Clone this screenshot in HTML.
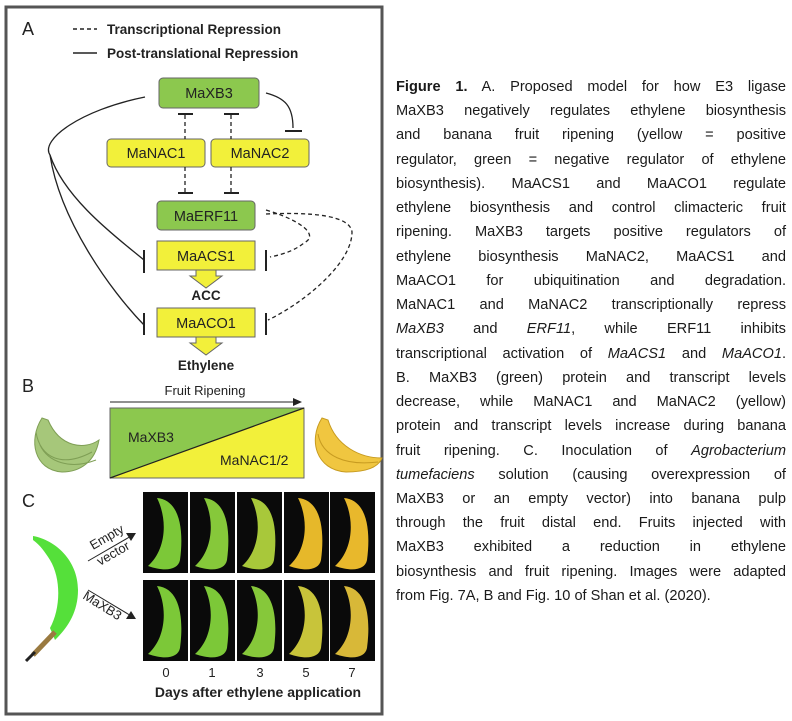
<!DOCTYPE html>
<html><head><meta charset="utf-8"><style>
body{margin:0;width:792px;height:721px;background:#fff;position:relative;overflow:hidden;font-family:"Liberation Sans",sans-serif}
#txt{position:absolute;left:396px;top:75px;width:390px;font-size:14.6px;line-height:24.24px;color:#1a1a1a}
#txt div{text-align:justify;text-align-last:justify;height:24.24px;white-space:normal}
#txt div.l{text-align-last:left}
</style></head><body>
<svg width="792" height="721" style="position:absolute;left:0;top:0" font-family="Liberation Sans, sans-serif">
<rect x="6" y="7" width="376" height="707" fill="none" stroke="#555" stroke-width="3"/>
<g font-size="15" fill="#222"><text x="22" y="35" font-size="18">A</text>
<line x1="73" y1="29" x2="97" y2="29" stroke="#222" stroke-width="1.5" stroke-dasharray="4,3"/>
<text x="107" y="34" font-weight="bold" font-size="13.5">Transcriptional Repression</text>
<line x1="73" y1="53" x2="97" y2="53" stroke="#222" stroke-width="1.5"/>
<text x="107" y="58" font-weight="bold" font-size="13.5">Post-translational Repression</text></g>
<g stroke="#666" stroke-width="1" font-size="14.5" text-anchor="middle">
<rect x="159" y="78" width="100" height="30" rx="4" fill="#8cc84e"/>
<rect x="107" y="139" width="98" height="28" rx="4" fill="#f2f03a"/>
<rect x="211" y="139" width="98" height="28" rx="4" fill="#f2f03a"/>
<rect x="157" y="201" width="98" height="29" rx="4" fill="#8cc84e"/>
<rect x="157" y="241" width="98" height="29" fill="#f2f03a"/>
<rect x="157" y="308" width="98" height="29" fill="#f2f03a"/>
<polygon points="196,270 216,270 216,276 222,276 206,288 190,276 196,276" fill="#f2f03a"/>
<polygon points="196,337 216,337 216,343 222,343 206,355 190,343 196,343" fill="#f2f03a"/>
</g>
<g font-size="14.5" text-anchor="middle" fill="#222">
<text x="209" y="98">MaXB3</text><text x="156" y="158">MaNAC1</text><text x="260" y="158">MaNAC2</text>
<text x="206" y="221">MaERF11</text><text x="206" y="261">MaACS1</text><text x="206" y="328">MaACO1</text>
<text x="206" y="300" font-weight="bold" font-size="13.5">ACC</text><text x="206" y="370" font-weight="bold" font-size="13.5">Ethylene</text></g>
<g stroke="#222" stroke-width="1.3" fill="none">
<path d="M185 115V139M231 115V139M185 167V193M231 167V193" stroke-dasharray="4,3"/>
<path d="M178 114H193M224 114H239M178 193H193M224 193H239" stroke-width="2"/>
<path d="M266 93C285 98 293 106 293 128"/><path d="M285 131H302" stroke-width="2"/>
<path d="M145 97C80 110 40 140 50 155C65 200 120 240 144 260"/>
<path d="M50 155C60 220 110 290 144 325"/>
<path d="M144 250V273M144 313V335M266 250V271M266 313V335" stroke-width="2"/>
<path d="M266 210C300 220 320 235 304 243C295 250 285 254 270 257" stroke-dasharray="4,3"/>
<path d="M266 214C310 212 350 215 352 232C352 265 300 305 268 320" stroke-dasharray="4,3"/>
</g>
<text x="22" y="392" font-size="18" fill="#222">B</text>
<text x="205" y="395" font-size="13" text-anchor="middle" fill="#222">Fruit Ripening</text>
<line x1="110" y1="402" x2="296" y2="402" stroke="#222" stroke-width="1"/><polygon points="302,402 293,398 293,406" fill="#222"/>
<polygon points="110,408 304,408 110,478" fill="#8cc84e"/><polygon points="304,408 304,478 110,478" fill="#f2f03a"/>
<rect x="110" y="408" width="194" height="70" fill="none" stroke="#666"/><line x1="110" y1="478" x2="304" y2="408" stroke="#222" stroke-width="1.2"/>
<text x="128" y="442" font-size="14" fill="#222">MaXB3</text><text x="220" y="465" font-size="14" fill="#222">MaNAC1/2</text>
<g fill="#a6c77a" stroke="#7f9f55"><path d="M42 418C28 440 34 470 62 472C80 472 95 462 99 440C85 450 60 448 48 420Z"/><path d="M36 432C40 458 62 468 92 452" fill="none"/><path d="M40 445C48 462 70 470 96 460" fill="none"/></g>
<g fill="#f0c640" stroke="#c79b20"><path d="M322 418C308 440 316 470 346 472C364 472 378 468 382 458C360 458 336 446 328 420Z"/><path d="M318 434C322 456 345 466 378 462" fill="none"/></g>
<text x="22" y="507" font-size="18" fill="#222">C</text>
<g fill="#0a0a0a"><rect x="143" y="492" width="45" height="81"/><rect x="190" y="492" width="45" height="81"/><rect x="237" y="492" width="45" height="81"/><rect x="284" y="492" width="45" height="81"/><rect x="330" y="492" width="45" height="81"/>
<rect x="143" y="580" width="45" height="81"/><rect x="190" y="580" width="45" height="81"/><rect x="237" y="580" width="45" height="81"/><rect x="284" y="580" width="45" height="81"/><rect x="330" y="580" width="45" height="81"/></g>
<g>
<path d="M157 498C180 500 184 530 180 560C178 570 165 572 148 566C166 550 168 520 157 498Z" fill="#7cc838"/>
<path d="M204 498C227 500 231 530 227 560C225 570 212 572 195 566C213 550 215 520 204 498Z" fill="#86c83a"/>
<path d="M251 498C274 500 278 530 274 560C272 570 259 572 242 566C260 550 262 520 251 498Z" fill="#a8c83a"/>
<path d="M298 498C321 500 325 530 321 560C319 570 306 572 289 566C307 550 309 520 298 498Z" fill="#e6b82a"/>
<path d="M344 498C367 500 371 530 367 560C365 570 352 572 335 566C353 550 355 520 344 498Z" fill="#e8b82c"/>
<path d="M157 586C180 588 184 618 180 648C178 658 165 660 148 654C166 638 168 608 157 586Z" fill="#7cc838"/>
<path d="M204 586C227 588 231 618 227 648C225 658 212 660 195 654C213 638 215 608 204 586Z" fill="#7cc838"/>
<path d="M251 586C274 588 278 618 274 648C272 658 259 660 242 654C260 638 262 608 251 586Z" fill="#86c83a"/>
<path d="M298 586C321 588 325 618 321 648C319 658 306 660 289 654C307 638 309 608 298 586Z" fill="#c8c43a"/>
<path d="M344 586C367 588 371 618 367 648C365 658 352 660 335 654C353 638 355 608 344 586Z" fill="#d8b838"/>
</g>
<path d="M33 536C55 540 78 560 78 590C78 615 65 630 55 640L50 628C60 610 62 580 50 560C45 552 40 545 33 540Z" fill="#55e03a"/>
<line x1="55" y1="632" x2="33" y2="655" stroke="#9a7a40" stroke-width="5"/><line x1="35" y1="652" x2="26" y2="661" stroke="#222" stroke-width="3"/>
<line x1="88" y1="561" x2="133" y2="535" stroke="#222"/><polygon points="136,533 126,533 131,541" fill="#222"/>
<line x1="88" y1="590" x2="133" y2="617" stroke="#222"/><polygon points="136,619 131,611 126,619" fill="#222"/>
<text transform="translate(93,550) rotate(-30)" font-size="13" fill="#222">Empty</text>
<text transform="translate(100,566) rotate(-30)" font-size="13" fill="#222">vector</text>
<text transform="translate(82,598) rotate(32)" font-size="13" fill="#222">MaXB3</text>
<g font-size="13" text-anchor="middle" fill="#222"><text x="166" y="677">0</text><text x="212" y="677">1</text><text x="260" y="677">3</text><text x="306" y="677">5</text><text x="352" y="677">7</text></g>
<text x="258" y="697" font-size="14" font-weight="bold" text-anchor="middle" fill="#222">Days after ethylene application</text>
</svg>
<div id="txt">
<div><b>Figure 1.</b> A. Proposed model for how E3 ligase</div>
<div>MaXB3 negatively regulates ethylene biosynthesis</div>
<div>and banana fruit ripening (yellow = positive</div>
<div>regulator, green = negative regulator of ethylene</div>
<div>biosynthesis). MaACS1 and MaACO1 regulate</div>
<div>ethylene biosynthesis and control climacteric fruit</div>
<div>ripening. MaXB3 targets positive regulators of</div>
<div>ethylene biosynthesis MaNAC2, MaACS1 and</div>
<div>MaACO1 for ubiquitination and degradation.</div>
<div>MaNAC1 and MaNAC2 transcriptionally repress</div>
<div><i>MaXB3</i> and <i>ERF11</i>, while ERF11 inhibits</div>
<div>transcriptional activation of <i>MaACS1</i> and <i>MaACO1</i>.</div>
<div>B. MaXB3 (green) protein and transcript levels</div>
<div>decrease, while MaNAC1 and MaNAC2 (yellow)</div>
<div>protein and transcript levels increase during banana</div>
<div>fruit ripening. C. Inoculation of <i>Agrobacterium</i></div>
<div><i>tumefaciens</i> solution (causing overexpression of</div>
<div>MaXB3 or an empty vector) into banana pulp</div>
<div>through the fruit distal end. Fruits injected with</div>
<div>MaXB3 exhibited a reduction in ethylene</div>
<div>biosynthesis and fruit ripening. Images were adapted</div>
<div class="l">from Fig. 7A, B and Fig. 10 of Shan et al. (2020).</div>
</div>
</body></html>
